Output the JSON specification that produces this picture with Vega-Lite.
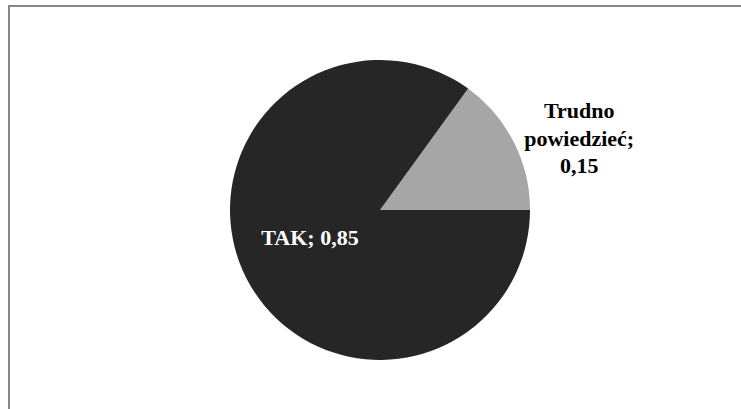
{
  "$schema": "https://vega.github.io/schema/vega-lite/v6.json",
  "autosize": {"type": "none"},
  "padding": {"left": 9, "top": 6, "right": 0, "bottom": 0},
  "width": 742,
  "height": 408,
  "background": "white",
  "config": {"view": {"stroke": null}},
  "data": {"values": [
    {"category": "Trudno powiedzieć", "value": 0.15, "label": "Trudno\npowiedzieć;\n0,15"},
    {"category": "TAK", "value": 0.85, "label": "TAK; 0,85"}
  ]},
  "layer": [
    {
      "data": {"values": [{"frame": 1}]},
      "mark": {"type": "rect", "fill": null, "fillOpacity": 0, "stroke": "#868686", "strokeWidth": 2},
      "encoding": {}
    },
    {
      "mark": {"type": "arc", "outerRadius": 150},
      "encoding": {
        "theta": {"field": "value", "type": "quantitative", "stack": true, "scale": {"range": [0.628, 6.9112]}},
        "order": {"field": "category", "sort": "descending"},
        "color": {"field": "category", "type": "nominal", "legend": null,
          "scale": {"domain": ["Trudno powiedzieć", "TAK"], "range": ["#a6a6a6", "#262626"]}}
      }
    },
    {
      "mark": {"type": "text", "radius": 82, "fill": "white", "font": "Liberation Serif, Times New Roman, serif", "fontWeight": "bold", "fontSize": 22, "align": "center", "baseline": "alphabetic", "dx": 3, "dy": -2},
      "encoding": {
        "theta": {"field": "value", "type": "quantitative", "stack": true},
        "order": {"field": "category", "sort": "descending"},
        "text": {"condition": {"test": "datum.category === 'TAK'", "field": "label"}, "value": ""}
      }
    },
    {
      "mark": {"type": "text", "radius": 200, "fill": "black", "font": "Liberation Serif, Times New Roman, serif", "fontWeight": "bold", "fontSize": 22, "lineHeight": 27.5, "lineBreak": "\n", "align": "center", "baseline": "alphabetic", "dx": 21, "dy": -1},
      "encoding": {
        "theta": {"field": "value", "type": "quantitative", "stack": true},
        "order": {"field": "category", "sort": "descending"},
        "text": {"condition": {"test": "datum.category !== 'TAK'", "field": "label"}, "value": ""}
      }
    }
  ]
}
